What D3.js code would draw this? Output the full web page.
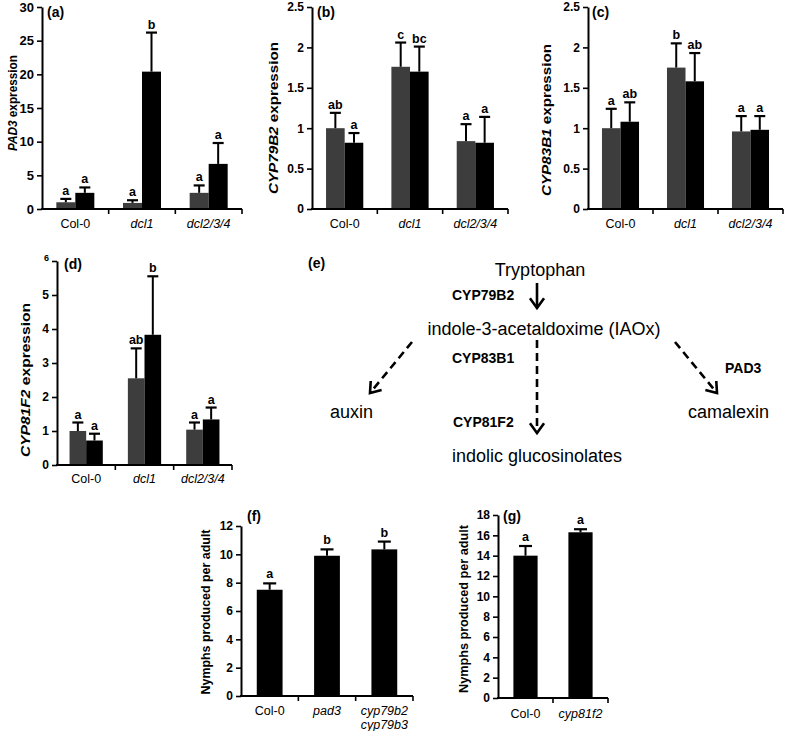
<!DOCTYPE html>
<html><head><meta charset="utf-8">
<script src="https://cdn.jsdelivr.net/npm/d3@7"></script>
<style>
html,body{margin:0;padding:0;background:#fff;}
svg{display:block;font-family:"Liberation Sans",Arial,sans-serif;}
</style></head>
<body><svg id="c" width="787" height="731"></svg>
<script>
// ---------- DATA ----------
const genotypes = ["Col-0", "dcl1", "dcl2/3/4"];
const italicCats = ["dcl1", "dcl2/3/4", "pad3", "cyp79b2", "cyp81f2"];

// (a) PAD3
const pad3Grey = [1.0, 0.9, 2.4];
const pad3GreyErr = [0.5, 0.4, 1.1];
const pad3Black = [2.4, 20.4, 6.7];
const pad3BlackErr = [0.8, 5.8, 3.1];
const pad3Letters = [["a", "a"], ["a", "b"], ["a", "a"]];
const pad3Ticks = [0, 5, 10, 15, 20, 25, 30];

// (b) CYP79B2
const cyp79Grey = [1.0, 1.76, 0.84];
const cyp79GreyErr = [0.19, 0.30, 0.21];
const cyp79Black = [0.82, 1.70, 0.82];
const cyp79BlackErr = [0.12, 0.31, 0.32];
const cyp79Letters = [["ab", "a"], ["c", "bc"], ["a", "a"]];

// (c) CYP83B1
const cyp83Grey = [1.0, 1.75, 0.96];
const cyp83GreyErr = [0.24, 0.30, 0.19];
const cyp83Black = [1.08, 1.58, 0.98];
const cyp83BlackErr = [0.24, 0.35, 0.17];
const cyp83Letters = [["a", "ab"], ["b", "ab"], ["a", "a"]];
const expr25Ticks = [0, 0.5, 1, 1.5, 2, 2.5];

// (d) CYP81F2
const cyp81Grey = [1.0, 2.55, 1.04];
const cyp81GreyErr = [0.25, 0.88, 0.21];
const cyp81Black = [0.72, 3.83, 1.34];
const cyp81BlackErr = [0.20, 1.72, 0.35];
const cyp81Letters = [["a", "a"], ["ab", "b"], ["a", "a"]];
const cyp81Ticks = [0, 1, 2, 3, 4, 5, 6];

// (f) nymphs
const fCats = ["Col-0", "pad3", "cyp79b2\ncyp79b3"];
const fValues = [7.5, 9.9, 10.35];
const fErr = [0.45, 0.45, 0.55];
const fLetters = ["a", "b", "b"];
const fTicks = [0, 2, 4, 6, 8, 10, 12];

// (g) nymphs
const gCats = ["Col-0", "cyp81f2"];
const gValues = [14.0, 16.3];
const gErr = [0.95, 0.3];
const gLetters = ["a", "a"];
const gTicks = [0, 2, 4, 6, 8, 10, 12, 14, 16, 18];

// ---------- DRAW ----------
const svg = d3.select("#c");
const GREY = "#3d3d3d", BLACK = "#000";

function yLabel(g, cx, cy, gene, rest, len, fs) {
  const t = g.append("text")
    .attr("transform", `translate(${cx},${cy}) rotate(-90)`)
    .attr("text-anchor", "middle").attr("dominant-baseline", "central")
    .attr("font-weight", "bold").attr("font-size", fs);
  if (gene) t.append("tspan").attr("font-style", "italic").text(gene);
  t.append("tspan").text(rest);
  if (len) t.attr("textLength", len).attr("lengthAdjust", "spacingAndGlyphs");
}

function yAxis(g, y, x0, ticks, fs, fmt) {
  const ax = g.append("g").attr("transform", `translate(${x0},0)`)
    .call(d3.axisLeft(y).tickValues(ticks).tickSize(5).tickSizeOuter(0).tickPadding(3).tickFormat(fmt || d3.format("")));
  ax.select(".domain").attr("stroke-width", 2);
  ax.selectAll(".tick line").attr("stroke-width", 1.6);
  ax.selectAll(".tick text").attr("font-size", fs).attr("font-weight", "bold")
    .attr("font-family", "Liberation Sans, Arial, sans-serif").attr("fill", "#000");
  return ax;
}

function xAxis(g, x, y0, cats, fs, lineGap, off) {
  const [a, b] = x.range();
  g.append("line").attr("x1", a - 1).attr("x2", b).attr("y1", y0).attr("y2", y0)
    .attr("stroke", "#000").attr("stroke-width", 2);
  cats.forEach((c, i) => {
    const bx = a + x.step() * (i + 1);
    g.append("line").attr("x1", bx).attr("x2", bx).attr("y1", y0).attr("y2", y0 + 5)
      .attr("stroke", "#000").attr("stroke-width", 1.6);
    const lines = c.split("\n");
    const t = g.append("text").attr("x", x(c) + x.bandwidth() / 2).attr("y", y0 + off)
      .attr("text-anchor", "middle").attr("font-size", fs)
      .attr("font-style", italicCats.includes(lines[0]) ? "italic" : "normal");
    lines.forEach((l, k) => t.append("tspan").attr("x", x(c) + x.bandwidth() / 2).attr("dy", k ? lineGap : 0).text(l));
  });
}

function errBar(g, cx, yTop, yBar, capW) {
  g.append("line").attr("x1", cx).attr("x2", cx).attr("y1", yBar).attr("y2", yTop)
    .attr("stroke", "#000").attr("stroke-width", 2);
  g.append("line").attr("x1", cx - capW / 2).attr("x2", cx + capW / 2).attr("y1", yTop).attr("y2", yTop)
    .attr("stroke", "#000").attr("stroke-width", 2.2);
}

function grouped(cfg) {
  const g = svg.append("g");
  const y = d3.scaleLinear().domain([0, cfg.max]).range([cfg.y0, cfg.yTop]);
  const x = d3.scaleBand().domain(genotypes).range([cfg.x0, cfg.x1]).paddingInner(0.43).paddingOuter(0.215);
  const xs = d3.scaleBand().domain(["grey", "black"]).range([0, x.bandwidth()]);
  const series = [
    {key: "grey", vals: cfg.grey, err: cfg.greyErr, color: GREY},
    {key: "black", vals: cfg.black, err: cfg.blackErr, color: BLACK}
  ];
  series.forEach((s, si) => {
    genotypes.forEach((c, i) => {
      const bx = x(c) + xs(s.key);
      g.append("rect").attr("x", bx).attr("y", y(s.vals[i])).attr("width", xs.bandwidth())
        .attr("height", y(0) - y(s.vals[i])).attr("fill", s.color);
      const top = y(s.vals[i] + s.err[i]);
      const cx = bx + xs.bandwidth() / 2;
      errBar(g, cx, top, y(s.vals[i]), 11);
      g.append("text").attr("x", cx).attr("y", top - 4).attr("text-anchor", "middle")
        .attr("font-size", 12.5).attr("font-weight", "bold").text(cfg.letters[i][si]);
    });
  });
  const ax = yAxis(g, y, cfg.x0, cfg.ticks, cfg.tickFs, cfg.fmt);
  if (cfg.smallTop) ax.selectAll(".tick text").filter(d => d === cfg.max).attr("font-size", 9).attr("dy", "-0.1em");
  xAxis(g, x, cfg.y0, genotypes, 12.5, 14, cfg.xOff);
  yLabel(g, cfg.labX, cfg.labY, cfg.gene, " expression", cfg.labLen, 12);
  g.append("text").attr("x", cfg.tagX).attr("y", cfg.tagY).attr("font-size", 14).attr("font-weight", "bold").text(cfg.tag);
}

function single(cfg) {
  const g = svg.append("g");
  const y = d3.scaleLinear().domain([0, cfg.max]).range([cfg.y0, cfg.yTop]);
  const x = d3.scaleBand().domain(cfg.cats).range([cfg.x0, cfg.x1]).paddingInner(cfg.pad).paddingOuter(cfg.pad / 2);
  cfg.cats.forEach((c, i) => {
    g.append("rect").attr("x", x(c)).attr("y", y(cfg.vals[i])).attr("width", x.bandwidth())
      .attr("height", y(0) - y(cfg.vals[i])).attr("fill", BLACK);
    const top = y(cfg.vals[i] + cfg.err[i]);
    const cx = x(c) + x.bandwidth() / 2;
    errBar(g, cx, top, y(cfg.vals[i]), 13);
    g.append("text").attr("x", cx).attr("y", top - 5).attr("text-anchor", "middle")
      .attr("font-size", 12.5).attr("font-weight", "bold").text(cfg.letters[i]);
  });
  yAxis(g, y, cfg.x0, cfg.ticks, 12);
  xAxis(g, x, cfg.y0, cfg.cats, 12.5, 14, cfg.xOff);
  yLabel(g, cfg.labX, cfg.labY, null, "Nymphs produced per adult", cfg.labLen, 12);
  g.append("text").attr("x", cfg.tagX).attr("y", cfg.tagY).attr("font-size", 14).attr("font-weight", "bold").text(cfg.tag);
}

grouped({x0: 42, x1: 242, y0: 209, yTop: 7, max: 30, ticks: pad3Ticks, tickFs: 13, xOff: 19,
  grey: pad3Grey, greyErr: pad3GreyErr, black: pad3Black, blackErr: pad3BlackErr, letters: pad3Letters,
  gene: "PAD3", labX: 13, labY: 103, labLen: 96, tag: "(a)", tagX: 47, tagY: 17});
grouped({x0: 312, x1: 508, y0: 209, yTop: 7, max: 2.5, ticks: expr25Ticks, tickFs: 12, xOff: 19,
  grey: cyp79Grey, greyErr: cyp79GreyErr, black: cyp79Black, blackErr: cyp79BlackErr, letters: cyp79Letters,
  gene: "CYP79B2", labX: 274, labY: 118, labLen: 152, tag: "(b)", tagX: 317, tagY: 17});
grouped({x0: 588, x1: 783, y0: 209, yTop: 7, max: 2.5, ticks: expr25Ticks, tickFs: 12, xOff: 19,
  grey: cyp83Grey, greyErr: cyp83GreyErr, black: cyp83Black, blackErr: cyp83BlackErr, letters: cyp83Letters,
  gene: "CYP83B1", labX: 547, labY: 120, labLen: 152, tag: "(c)", tagX: 592, tagY: 17});
grouped({x0: 57, x1: 232, y0: 465, yTop: 261, max: 6, ticks: cyp81Ticks, tickFs: 12, smallTop: true, xOff: 18,
  grey: cyp81Grey, greyErr: cyp81GreyErr, black: cyp81Black, blackErr: cyp81BlackErr, letters: cyp81Letters,
  gene: "CYP81F2", labX: 26, labY: 380, labLen: 154, tag: "(d)", tagX: 64, tagY: 269});
single({x0: 241, x1: 413, y0: 696, yTop: 526, max: 12, ticks: fTicks, cats: fCats, vals: fValues, err: fErr, xOff: 19,
  letters: fLetters, pad: 0.55, labX: 206, labY: 612, labLen: 165, tag: "(f)", tagX: 247, tagY: 521});
single({x0: 498, x1: 608, y0: 698, yTop: 515, max: 18, ticks: gTicks, cats: gCats, vals: gValues, err: gErr, xOff: 20,
  letters: gLetters, pad: 0.56, labX: 464, labY: 609, labLen: 168, tag: "(g)", tagX: 503, tagY: 521});

// ---------- (e) pathway ----------
const pathwayNodes = [
  {text: "Tryptophan", x: 540, y: 276, anchor: "middle"},
  {text: "indole-3-acetaldoxime (IAOx)", x: 544, y: 335, anchor: "middle"},
  {text: "auxin", x: 330, y: 418, anchor: "start"},
  {text: "indolic glucosinolates", x: 452, y: 462, anchor: "start"},
  {text: "camalexin", x: 688, y: 418, anchor: "start"}
];
const enzymes = [
  {text: "CYP79B2", x: 452, y: 300},
  {text: "CYP83B1", x: 452, y: 363},
  {text: "CYP81F2", x: 453, y: 427},
  {text: "PAD3", x: 725, y: 373}
];
const arrows = [
  {from: [537, 283], to: [537, 308], dashed: false},
  {from: [537, 340], to: [537, 433], dashed: true},
  {from: [412, 342], to: [370, 393], dashed: true},
  {from: [675, 342], to: [717, 393], dashed: true}
];
const ge = svg.append("g");
ge.append("text").attr("x", 308).attr("y", 268).attr("font-size", 14).attr("font-weight", "bold").text("(e)");
pathwayNodes.forEach(n => ge.append("text").attr("x", n.x).attr("y", n.y).attr("text-anchor", n.anchor)
  .attr("font-size", 18).text(n.text));
enzymes.forEach(n => ge.append("text").attr("x", n.x).attr("y", n.y).attr("font-size", 14)
  .attr("font-weight", "bold").text(n.text));
arrows.forEach(a => {
  const [x1, y1] = a.from, [x2, y2] = a.to;
  ge.append("line").attr("x1", x1).attr("y1", y1).attr("x2", x2).attr("y2", y2)
    .attr("stroke", "#000").attr("stroke-width", 2.6)
    .attr("stroke-dasharray", a.dashed ? "8,5" : null);
  const ang = Math.atan2(y2 - y1, x2 - x1);
  const L = 12, h = Math.PI / 5;
  const p1 = [x2 - L * Math.cos(ang - h), y2 - L * Math.sin(ang - h)];
  const p2 = [x2 - L * Math.cos(ang + h), y2 - L * Math.sin(ang + h)];
  ge.append("path").attr("d", `M${p1}L${x2},${y2}L${p2}`).attr("fill", "none")
    .attr("stroke", "#000").attr("stroke-width", 2.6);
});
</script></body></html>
